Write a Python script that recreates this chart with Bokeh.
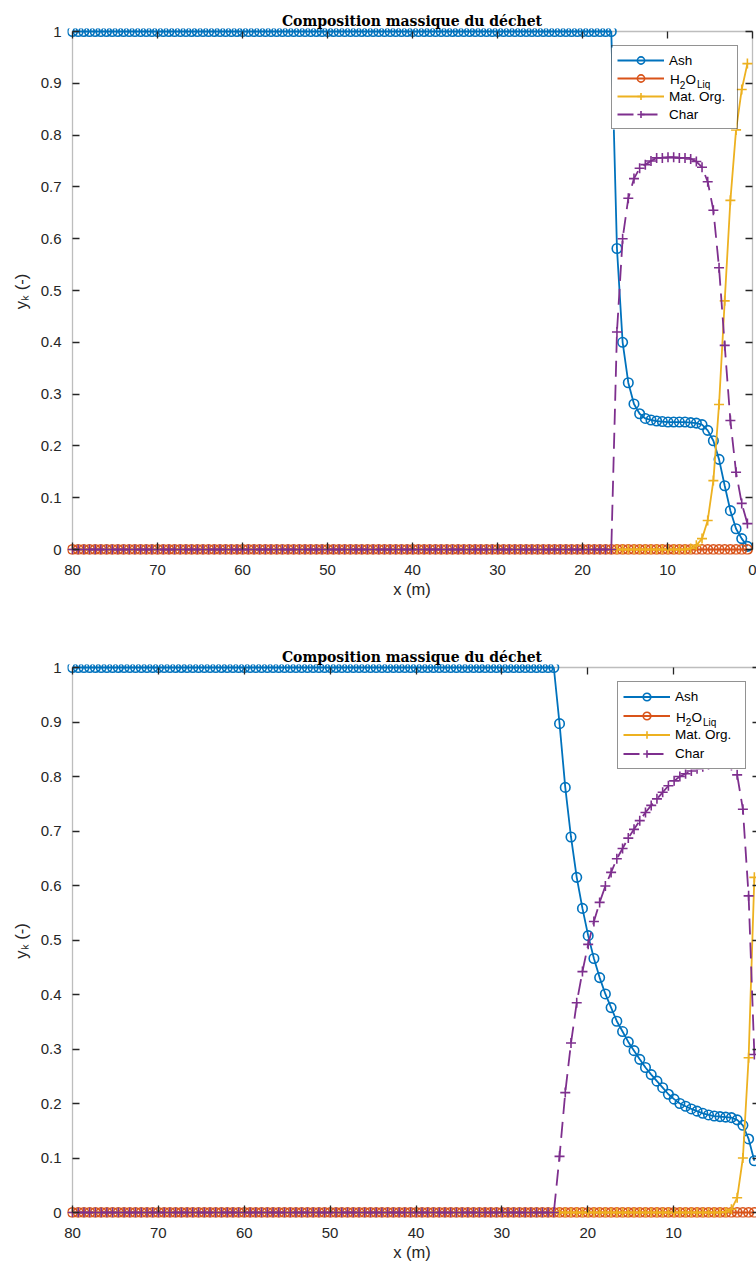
import numpy as np
from bokeh.plotting import figure
from bokeh.models import (Range1d, LinearAxis, FixedTicker, PrintfTickFormatter,
                          CustomJSTickFormatter, BoxAnnotation, Legend, LegendItem, Label)
from bokeh.layouts import column
from bokeh.embed import file_html
from bokeh.resources import INLINE

# ---------------- data ----------------
# mesh node positions along the grate (m), uniform mesh of 120 nodes
x_m = np.linspace(0.6, 80.0, 120)

# top chart (values listed from x = 0.6 m upward)
ash_top = [0.006, 0.021, 0.040, 0.075, 0.123, 0.174, 0.210, 0.230, 0.241, 0.244,
           0.245, 0.246, 0.246, 0.246, 0.246, 0.247, 0.248, 0.250, 0.253, 0.262,
           0.281, 0.322, 0.400, 0.581] + [1.0] * 96
h2o_top = [0.0] * 120
mat_top = [0.938, 0.888, 0.810, 0.674, 0.480, 0.280, 0.133, 0.056, 0.021, 0.008,
           0.002] + [0.0] * 109
char_top = [0.050, 0.089, 0.149, 0.249, 0.394, 0.544, 0.655, 0.710, 0.738, 0.749,
            0.754, 0.756, 0.756, 0.757, 0.757, 0.756, 0.756, 0.750, 0.743, 0.736,
            0.716, 0.678, 0.600, 0.420] + [0.0] * 96

# bottom chart
ash_bot = [0.095, 0.135, 0.160, 0.170, 0.174, 0.175, 0.176, 0.177, 0.179, 0.182,
           0.186, 0.190, 0.195, 0.200, 0.208, 0.217, 0.229, 0.241, 0.253, 0.266,
           0.281, 0.297, 0.313, 0.332, 0.351, 0.376, 0.401, 0.431, 0.466, 0.508,
           0.558, 0.615, 0.689, 0.780, 0.897] + [1.0] * 85
h2o_bot = [0.0] * 120
mat_bot = [0.615, 0.284, 0.100, 0.027, 0.006, 0.001] + [0.0] * 114
char_bot = [0.290, 0.581, 0.740, 0.803, 0.820, 0.824, 0.824, 0.823, 0.821, 0.818,
            0.814, 0.810, 0.805, 0.800, 0.792, 0.783, 0.771, 0.759, 0.747, 0.734,
            0.719, 0.703, 0.687, 0.668, 0.649, 0.624, 0.599, 0.569, 0.534, 0.492,
            0.442, 0.385, 0.311, 0.220, 0.103] + [0.0] * 85

x_ticks = [0, 10, 20, 30, 40, 50, 60, 70, 80]
y_ticks = [0.0, 0.1, 0.2, 0.3, 0.4, 0.5, 0.6, 0.7, 0.8, 0.9, 1.0]
y_tick_labels = ["0", "0.1", "0.2", "0.3", "0.4", "0.5", "0.6", "0.7", "0.8", "0.9", "1"]
legend_labels = ["Ash", "H2O_Liq", "Mat. Org.", "Char"]
title_text = "Composition massique du déchet"
x_label_text = "x (m)"
y_label_text = "y\u2096 (-)"

# ---------------- style ----------------
COLORS = ["#0072BD", "#D95319", "#EDB120", "#7E2F8E"]
MARKERS = ["circle", "circle", "cross", "cross"]
DASHES = ["solid", "solid", "solid", "16 8"]
AXC = "#262626"
FONT = "Liberation Sans"
FRAME_L, FRAME_R, TICK = 67, 756, 7
PAD_L, PAD_T, PAD_B = 5, 3, 5


def style_axis(ax, t_out, t_in, show_labels, size="15px"):
    ax.axis_line_color = None
    ax.major_tick_line_color = AXC
    ax.major_tick_line_width = 1.3
    ax.minor_tick_line_color = None
    ax.major_tick_out = int(t_out)
    ax.major_tick_in = int(t_in)
    if show_labels:
        ax.major_label_text_font = FONT
        ax.major_label_text_font_size = size
        ax.major_label_text_color = AXC
    else:
        ax.formatter = CustomJSTickFormatter(code="return ''")
        ax.major_label_text_font_size = "0px"
        ax.major_label_standoff = 0


def build(series, box_l, box_r, box_t, box_b, fig_h, leg_left, leg_top, row_h, leg_lw):
    frame_t, frame_b = box_t - PAD_T, box_b + PAD_B
    sx = (box_r - box_l) / 80.0
    sy = float(box_b - box_t)

    def xd(px):
        return 80.0 - (px - box_l) / sx

    def yd(py):
        return 1.0 - (py - box_t) / sy

    p = figure(frame_width=FRAME_R - FRAME_L, frame_height=frame_b - frame_t,
               min_border_left=FRAME_L, min_border_right=0, min_border_top=frame_t,
               min_border_bottom=fig_h - frame_b,
               x_range=Range1d(xd(FRAME_L), xd(FRAME_R)),
               y_range=Range1d(yd(frame_b), yd(frame_t)),
               output_backend="svg", toolbar_location=None, tools="")
    p.outline_line_color = None
    p.grid.visible = False
    p.border_fill_color = "white"
    p.background_fill_color = "white"

    # title
    p.title.text = title_text
    p.title.align = "center"
    p.title.text_font = "DejaVu Serif"
    p.title.text_font_style = "bold"
    p.title.text_font_size = "14px"
    p.title.text_color = "black"
    p.title.standoff = 0

    p.add_layout(BoxAnnotation(left=80, right=0, bottom=0, top=1, fill_color=None,
                               line_color=AXC, line_width=1.3, level="underlay"))

    # axes
    xax = p.xaxis[0]
    yax = p.yaxis[0]
    xax.ticker = FixedTicker(ticks=x_ticks)
    yax.ticker = FixedTicker(ticks=y_ticks)
    yax.formatter = PrintfTickFormatter(format="%g")
    yax.major_label_overrides = dict(zip(y_ticks, y_tick_labels))
    style_axis(xax, -PAD_B, TICK + PAD_B, True)
    style_axis(yax, -(box_l - FRAME_L), TICK + (box_l - FRAME_L), True)
    xax.major_label_standoff = 10
    yax.major_label_standoff = 6
    xax.axis_label = x_label_text
    xax.axis_label_text_font = FONT
    xax.axis_label_text_font_size = "16.5px"
    xax.axis_label_text_font_style = "normal"
    xax.axis_label_text_color = AXC
    xax.axis_label_standoff = 2
    yax.axis_label = y_label_text
    yax.axis_label_text_font = FONT
    yax.axis_label_text_font_size = "16.5px"
    yax.axis_label_text_font_style = "normal"
    yax.axis_label_text_color = AXC
    yax.axis_label_standoff = 8

    top = LinearAxis(ticker=FixedTicker(ticks=x_ticks))
    right = LinearAxis(ticker=FixedTicker(ticks=y_ticks))
    p.add_layout(top, "above")
    p.add_layout(right, "right")
    style_axis(top, -PAD_T, TICK + PAD_T, False)
    d = FRAME_R - box_r
    if d >= 0:
        style_axis(right, -d, TICK + d, False)
    else:
        style_axis(right, 0, TICK + d, False)

    # data
    items = []
    for (ys, c, m, dsh, lab) in zip(series, COLORS, MARKERS, DASHES, legend_labels):
        lr = p.line(x_m, ys, line_color=c, line_width=1.8, line_dash=dsh)
        if m == "circle":
            sr = p.scatter(x_m, ys, marker="circle", size=9.5, line_color=c,
                           fill_color=None, line_width=1.6)
        else:
            sr = p.scatter(x_m, ys, marker="cross", size=10, line_color=c, line_width=1.6)
        items.append(LegendItem(label=(" " if lab == "H2O_Liq" else lab), renderers=[lr, sr]))

    leg_h = 2 * 5 + 4 * row_h
    leg_w = 2 * 5 + 47 + 5 + leg_lw
    # white background of the legend (drawn under the legend texts)
    p.add_layout(BoxAnnotation(left=xd(leg_left), right=xd(leg_left + leg_w),
                               top=yd(leg_top), bottom=yd(leg_top + leg_h),
                               fill_color="white", fill_alpha=1.0, line_color=None,
                               level="annotation"))
    # H2O_Liq legend label with subscripts
    tx0 = leg_left + 5 + 47 + 5
    ry = leg_top + 5 + row_h + row_h / 2.0
    for txt, off, big in [("H", 1.5, True), ("2", 11.3, False), ("O", 17.0, True),
                          ("Liq", 28.5, False)]:
        p.add_layout(Label(x=xd(tx0 + off), y=yd(ry + (0 if big else 5)), text=txt,
                           text_font=FONT, text_font_size=("13.5px" if big else "10px"),
                           text_color="black", text_align="left", text_baseline="middle",
                           level="annotation"))

    leg = Legend(items=items, location=(leg_left - FRAME_L, frame_b - (leg_top + leg_h)),
                 margin=0, padding=5, spacing=0, glyph_width=47, glyph_height=row_h,
                 label_height=row_h, label_width=leg_lw, label_standoff=5,
                 label_text_font=FONT, label_text_font_size="13.5px",
                 label_text_color="black", label_text_baseline="middle",
                 border_line_color=AXC, border_line_width=1.3,
                 background_fill_color="white", background_fill_alpha=0.0)
    p.add_layout(leg)
    return p


p1 = build([ash_top, h2o_top, mat_top, char_top], 72, 752, 31, 549, 631,
           611, 47, 18, 63)
p2 = build([ash_bot, h2o_bot, mat_bot, char_bot], 72, 759, 36, 581, 631,
           617, 52, 19, 65)

layout = column(p1, p2, spacing=0)
open("out.html", "w").write(file_html(layout, INLINE, title="Composition massique du déchet"))
